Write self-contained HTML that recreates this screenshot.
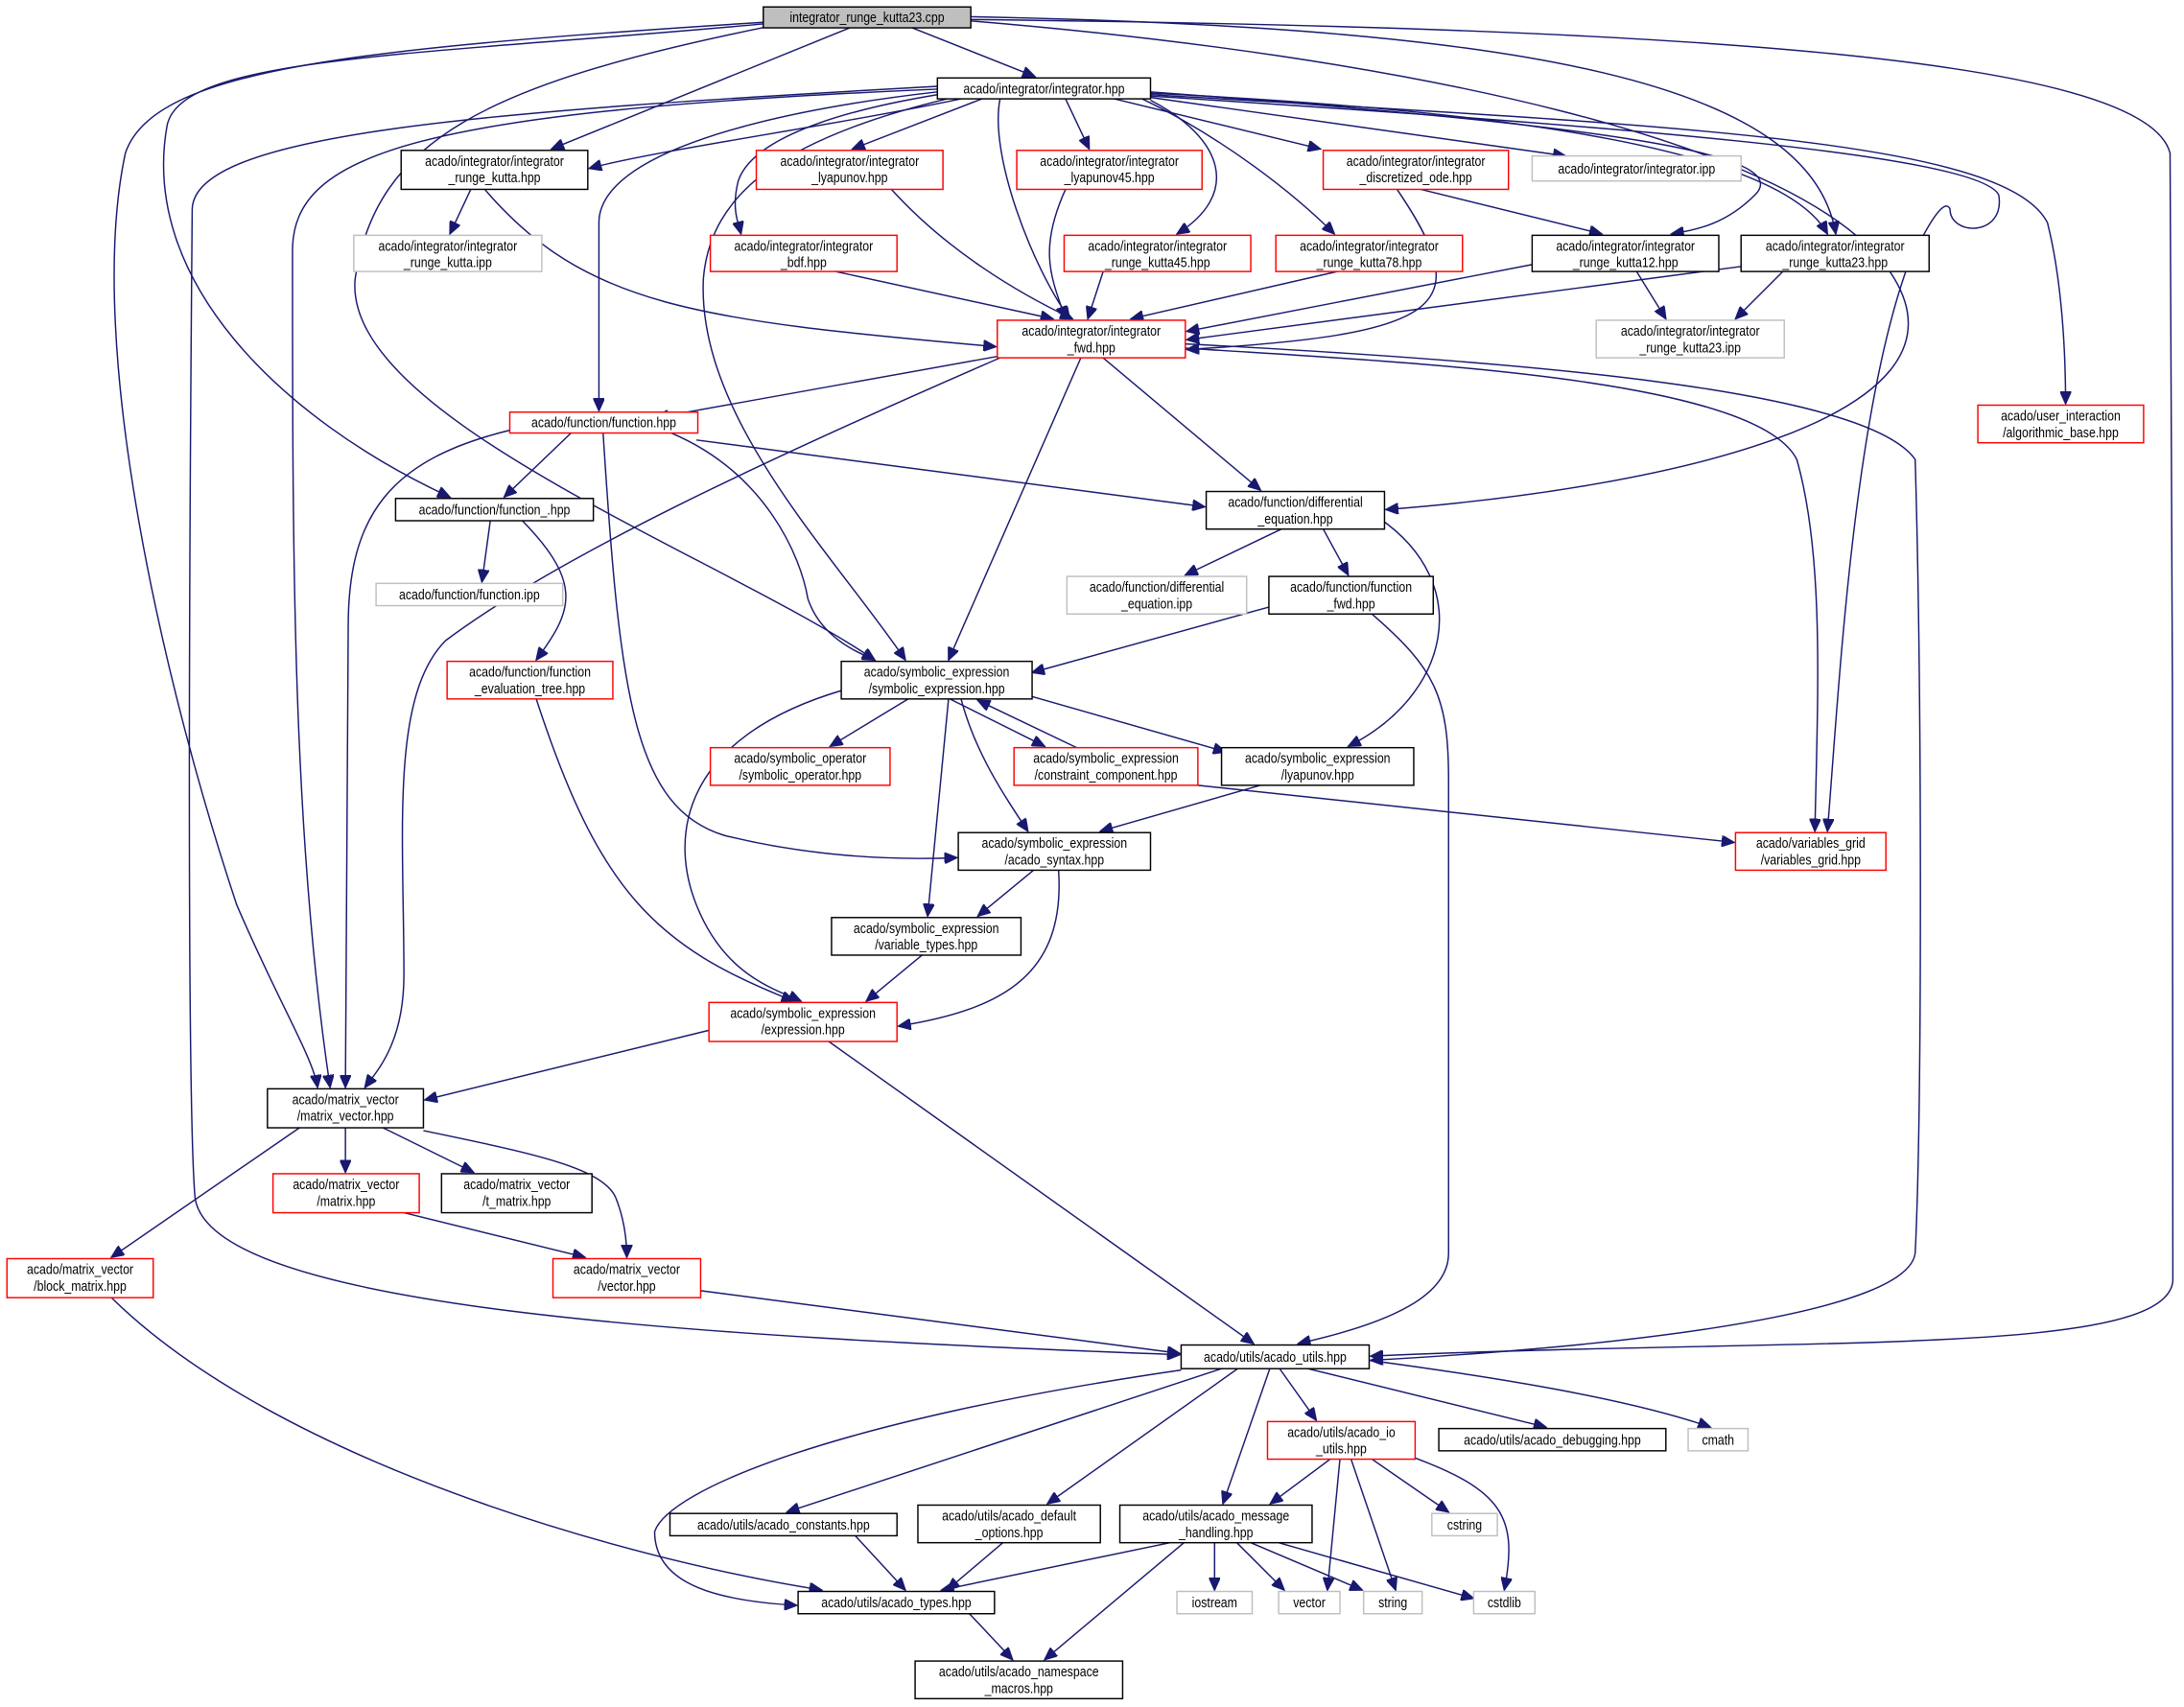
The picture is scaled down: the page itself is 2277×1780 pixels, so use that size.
<!DOCTYPE html>
<html><head><meta charset="utf-8"><style>
html,body{margin:0;padding:0;background:#fff;}
svg{display:block;}
text{font-family:"Liberation Sans",sans-serif;font-size:10px;fill:#000;text-anchor:middle;}
.e{fill:none;stroke:#191970;stroke-width:1;}
.b{fill:#fff;stroke:#000;stroke-width:1;}
.r{fill:#fff;stroke:#ff0000;stroke-width:1;}
.g{fill:#fff;stroke:#bfbfbf;stroke-width:1;}
</style></head><body>
<svg width="2277" height="1780" viewBox="0 0 1568 1226" preserveAspectRatio="none" xmlns="http://www.w3.org/2000/svg">
<defs><marker id="a" markerUnits="userSpaceOnUse" markerWidth="10" markerHeight="8" refX="9" refY="4" orient="auto"><path d="M0,0 L9,4 L0,8 z" fill="#191970" stroke="#191970"/></marker></defs>
<g class="e" marker-end="url(#a)">
<path d="M655,20 L743,55"/>
<path d="M610,20 L396,107"/>
<path d="M550,17 C300,40 130,40 120,90 C100,200 200,300 323,357"/>
<path d="M552,19 C350,60 270,100 255,200 C245,300 520,400 628,474"/>
<path d="M548,16 C250,35 110,50 90,110 C60,250 120,500 170,650 C200,720 225,760 228,781"/>
<path d="M697,14 C1200,20 1540,40 1558,110 C1560,300 1560,800 1560,920 C1555,975 1300,960 984,974"/>
<path d="M697,12 C1100,20 1300,60 1318,168"/>
<path d="M697,15 C1000,40 1300,100 1360,200 C1420,300 1200,350 995,366"/>
<path d="M690,71 C600,90 470,108 423,121"/>
<path d="M705,71 L612,107"/>
<path d="M765,71 L782,107"/>
<path d="M800,71 L948,107"/>
<path d="M826,70 L1124,112"/>
<path d="M673,68 C600,80 540,100 530,130 C525,150 530,160 532,168"/>
<path d="M826,72 C880,100 890,140 845,168"/>
<path d="M820,71 C880,100 930,140 958,168"/>
<path d="M826,66 C1150,90 1290,110 1260,140 C1240,160 1220,165 1200,168"/>
<path d="M826,67 C1100,80 1280,110 1312,168"/>
<path d="M718,71 C710,110 740,190 768,229"/>
<path d="M673,66 C550,80 430,110 430,160 C430,220 430,270 430,295"/>
<path d="M680,71 C560,100 510,140 505,200 C500,300 600,400 650,474"/>
<path d="M673,64 C300,80 210,110 210,180 C210,400 210,600 237,781"/>
<path d="M673,62 C350,80 140,95 138,150 C135,500 135,800 140,860 C150,940 500,960 847,973"/>
<path d="M826,68 C1200,90 1440,100 1470,160 C1480,200 1483,250 1483,290"/>
<path d="M826,69 C1150,90 1420,110 1435,140 C1440,170 1400,170 1400,150 C1395,140 1380,170 1370,190 C1330,300 1320,500 1312,597"/>
<path d="M338,136 L323,168"/>
<path d="M348,136 C420,220 500,230 715,249"/>
<path d="M640,136 C680,180 730,210 770,229"/>
<path d="M765,136 C745,180 755,200 765,229"/>
<path d="M600,195 L756,229"/>
<path d="M792,195 L781,229"/>
<path d="M960,195 L812,229"/>
<path d="M1020,136 L1150,168"/>
<path d="M1003,136 C1060,220 1040,240 852,251"/>
<path d="M1100,190 L852,238"/>
<path d="M1175,195 L1196,229"/>
<path d="M1253,191 L852,244"/>
<path d="M1280,195 L1246,229"/>
<path d="M716,256 L471,300"/>
<path d="M718,257 C550,330 400,400 320,460 C280,500 290,600 290,700 C290,750 270,770 262,781"/>
<path d="M776,257 L681,474"/>
<path d="M792,257 L905,352"/>
<path d="M851,250 C1000,260 1260,270 1290,330 C1310,400 1305,500 1303,597"/>
<path d="M851,247 C1100,260 1340,280 1375,330 C1380,500 1380,800 1375,900 C1370,940 1200,965 984,977"/>
<path d="M410,311 L362,357"/>
<path d="M500,316 L865,364"/>
<path d="M366,309 C280,330 250,370 250,450 C250,600 248,700 248,781"/>
<path d="M482,311 C550,340 575,400 580,430 C590,460 620,470 628,474"/>
<path d="M433,311 C445,500 455,580 520,600 C580,615 640,618 687,616"/>
<path d="M352,374 L346,418"/>
<path d="M375,374 C420,420 410,440 385,474"/>
<path d="M920,380 L851,413"/>
<path d="M950,380 L968,413"/>
<path d="M990,372 C1060,420 1040,500 968,536"/>
<path d="M911,436 L741,483"/>
<path d="M985,441 C1030,480 1040,500 1040,560 C1040,700 1040,850 1040,900 C1040,930 1000,950 932,965"/>
<path d="M385,502 C430,640 470,680 570,719"/>
<path d="M652,502 L596,536"/>
<path d="M682,502 L750,536"/>
<path d="M773,537 L702,503"/>
<path d="M740,500 L880,540"/>
<path d="M690,502 C700,540 720,570 738,597"/>
<path d="M681,502 L666,658"/>
<path d="M604,496 C490,530 480,600 500,650 C520,700 555,710 575,719"/>
<path d="M860,564 L1245,605"/>
<path d="M905,564 L790,597"/>
<path d="M742,625 L702,658"/>
<path d="M760,625 C765,700 720,725 645,737"/>
<path d="M662,686 L622,719"/>
<path d="M509,740 L305,790"/>
<path d="M595,748 L900,965"/>
<path d="M248,810 L248,842"/>
<path d="M275,810 L340,842"/>
<path d="M215,810 L80,903"/>
<path d="M304,812 C380,828 432,838 442,860 C448,875 450,890 450,903"/>
<path d="M290,871 L420,903"/>
<path d="M503,927 L847,972"/>
<path d="M80,932 C200,1050 450,1120 590,1142"/>
<path d="M848,984 C600,1020 480,1070 470,1100 C470,1140 520,1150 572,1153"/>
<path d="M880,982 L565,1086"/>
<path d="M890,982 L752,1080"/>
<path d="M912,982 L878,1080"/>
<path d="M918,982 L945,1020"/>
<path d="M935,982 L1110,1025"/>
<path d="M983,977 C1080,990 1170,1005 1228,1025"/>
<path d="M955,1048 L912,1080"/>
<path d="M962,1048 L953,1142"/>
<path d="M970,1048 L1002,1142"/>
<path d="M985,1048 L1040,1086"/>
<path d="M1010,1045 C1080,1070 1090,1090 1080,1142"/>
<path d="M840,1108 L676,1142"/>
<path d="M850,1108 L750,1192"/>
<path d="M872,1108 L872,1142"/>
<path d="M888,1108 L922,1142"/>
<path d="M898,1108 L978,1142"/>
<path d="M918,1108 L1058,1148"/>
<path d="M614,1103 L650,1142"/>
<path d="M720,1108 L680,1142"/>
<path d="M696,1159 L727,1192"/>
</g>
<rect x="548" y="5" width="149" height="15" fill="#bfbfbf" stroke="#000"/>
<g transform="translate(622.5,16) scale(0.85,1)"><text>integrator_runge_kutta23.cpp</text></g>
<rect class="b" x="673" y="56" width="153" height="15"/><g transform="translate(749.5,67) scale(0.85,1)"><text>acado/integrator/integrator.hpp</text></g>
<rect class="b" x="288" y="108" width="134" height="28"/><g transform="translate(355,119) scale(0.85,1)"><text>acado/integrator/integrator</text><text y="12">_runge_kutta.hpp</text></g>
<rect class="g" x="254" y="169" width="135" height="26"/><g transform="translate(321.5,180) scale(0.85,1)"><text>acado/integrator/integrator</text><text y="12">_runge_kutta.ipp</text></g>
<rect class="r" x="543" y="108" width="134" height="28"/><g transform="translate(610,119) scale(0.85,1)"><text>acado/integrator/integrator</text><text y="12">_lyapunov.hpp</text></g>
<rect class="r" x="730" y="108" width="133" height="28"/><g transform="translate(796.5,119) scale(0.85,1)"><text>acado/integrator/integrator</text><text y="12">_lyapunov45.hpp</text></g>
<rect class="r" x="510" y="169" width="134" height="26"/><g transform="translate(577,180) scale(0.85,1)"><text>acado/integrator/integrator</text><text y="12">_bdf.hpp</text></g>
<rect class="r" x="950" y="108" width="133" height="28"/><g transform="translate(1016.5,119) scale(0.85,1)"><text>acado/integrator/integrator</text><text y="12">_discretized_ode.hpp</text></g>
<rect class="g" x="1100" y="112" width="150" height="18"/><g transform="translate(1175,124.5) scale(0.85,1)"><text>acado/integrator/integrator.ipp</text></g>
<rect class="r" x="764" y="169" width="134" height="26"/><g transform="translate(831,180) scale(0.85,1)"><text>acado/integrator/integrator</text><text y="12">_runge_kutta45.hpp</text></g>
<rect class="r" x="916" y="169" width="134" height="26"/><g transform="translate(983,180) scale(0.85,1)"><text>acado/integrator/integrator</text><text y="12">_runge_kutta78.hpp</text></g>
<rect class="b" x="1100" y="169" width="134" height="26"/><g transform="translate(1167,180) scale(0.85,1)"><text>acado/integrator/integrator</text><text y="12">_runge_kutta12.hpp</text></g>
<rect class="b" x="1250" y="169" width="135" height="26"/><g transform="translate(1317.5,180) scale(0.85,1)"><text>acado/integrator/integrator</text><text y="12">_runge_kutta23.hpp</text></g>
<rect class="g" x="1146" y="230" width="135" height="27"/><g transform="translate(1213.5,241) scale(0.85,1)"><text>acado/integrator/integrator</text><text y="12">_runge_kutta23.ipp</text></g>
<rect class="r" x="716" y="230" width="135" height="27"/><g transform="translate(783.5,241) scale(0.85,1)"><text>acado/integrator/integrator</text><text y="12">_fwd.hpp</text></g>
<rect class="r" x="1420" y="291" width="119" height="27"/><g transform="translate(1479.5,302) scale(0.85,1)"><text>acado/user_interaction</text><text y="12">/algorithmic_base.hpp</text></g>
<rect class="r" x="366" y="296" width="135" height="15"/><g transform="translate(433.5,307) scale(0.85,1)"><text>acado/function/function.hpp</text></g>
<rect class="b" x="284" y="358" width="142" height="16"/><g transform="translate(355,369.5) scale(0.85,1)"><text>acado/function/function_.hpp</text></g>
<rect class="g" x="270" y="419" width="134" height="16"/><g transform="translate(337,430.5) scale(0.85,1)"><text>acado/function/function.ipp</text></g>
<rect class="b" x="866" y="353" width="128" height="27"/><g transform="translate(930,364) scale(0.85,1)"><text>acado/function/differential</text><text y="12">_equation.hpp</text></g>
<rect class="g" x="766" y="414" width="129" height="27"/><g transform="translate(830.5,425) scale(0.85,1)"><text>acado/function/differential</text><text y="12">_equation.ipp</text></g>
<rect class="b" x="911" y="414" width="118" height="27"/><g transform="translate(970,425) scale(0.85,1)"><text>acado/function/function</text><text y="12">_fwd.hpp</text></g>
<rect class="r" x="321" y="475" width="119" height="27"/><g transform="translate(380.5,486) scale(0.85,1)"><text>acado/function/function</text><text y="12">_evaluation_tree.hpp</text></g>
<rect class="b" x="604" y="475" width="137" height="27"/><g transform="translate(672.5,486) scale(0.85,1)"><text>acado/symbolic_expression</text><text y="12">/symbolic_expression.hpp</text></g>
<rect class="r" x="510" y="537" width="129" height="27"/><g transform="translate(574.5,548) scale(0.85,1)"><text>acado/symbolic_operator</text><text y="12">/symbolic_operator.hpp</text></g>
<rect class="r" x="728" y="537" width="132" height="27"/><g transform="translate(794,548) scale(0.85,1)"><text>acado/symbolic_expression</text><text y="12">/constraint_component.hpp</text></g>
<rect class="b" x="877" y="537" width="138" height="27"/><g transform="translate(946,548) scale(0.85,1)"><text>acado/symbolic_expression</text><text y="12">/lyapunov.hpp</text></g>
<rect class="r" x="1246" y="598" width="108" height="27"/><g transform="translate(1300,609) scale(0.85,1)"><text>acado/variables_grid</text><text y="12">/variables_grid.hpp</text></g>
<rect class="b" x="688" y="598" width="138" height="27"/><g transform="translate(757,609) scale(0.85,1)"><text>acado/symbolic_expression</text><text y="12">/acado_syntax.hpp</text></g>
<rect class="b" x="597" y="659" width="136" height="27"/><g transform="translate(665,670) scale(0.85,1)"><text>acado/symbolic_expression</text><text y="12">/variable_types.hpp</text></g>
<rect class="r" x="509" y="720" width="135" height="28"/><g transform="translate(576.5,731) scale(0.85,1)"><text>acado/symbolic_expression</text><text y="12">/expression.hpp</text></g>
<rect class="b" x="192" y="782" width="112" height="28"/><g transform="translate(248,793) scale(0.85,1)"><text>acado/matrix_vector</text><text y="12">/matrix_vector.hpp</text></g>
<rect class="r" x="196" y="843" width="105" height="28"/><g transform="translate(248.5,854) scale(0.85,1)"><text>acado/matrix_vector</text><text y="12">/matrix.hpp</text></g>
<rect class="b" x="317" y="843" width="108" height="28"/><g transform="translate(371,854) scale(0.85,1)"><text>acado/matrix_vector</text><text y="12">/t_matrix.hpp</text></g>
<rect class="r" x="5" y="904" width="105" height="28"/><g transform="translate(57.5,915) scale(0.85,1)"><text>acado/matrix_vector</text><text y="12">/block_matrix.hpp</text></g>
<rect class="r" x="397" y="904" width="106" height="28"/><g transform="translate(450,915) scale(0.85,1)"><text>acado/matrix_vector</text><text y="12">/vector.hpp</text></g>
<rect class="b" x="848" y="966" width="135" height="17"/><g transform="translate(915.5,978) scale(0.85,1)"><text>acado/utils/acado_utils.hpp</text></g>
<rect class="r" x="910" y="1021" width="106" height="27"/><g transform="translate(963,1032) scale(0.85,1)"><text>acado/utils/acado_io</text><text y="12">_utils.hpp</text></g>
<rect class="b" x="1033" y="1026" width="163" height="16"/><g transform="translate(1114.5,1037.5) scale(0.85,1)"><text>acado/utils/acado_debugging.hpp</text></g>
<rect class="g" x="1212" y="1026" width="43" height="16"/><g transform="translate(1233.5,1037.5) scale(0.85,1)"><text>cmath</text></g>
<rect class="b" x="481" y="1087" width="163" height="16"/><g transform="translate(562.5,1098.5) scale(0.85,1)"><text>acado/utils/acado_constants.hpp</text></g>
<rect class="b" x="659" y="1081" width="131" height="27"/><g transform="translate(724.5,1092) scale(0.85,1)"><text>acado/utils/acado_default</text><text y="12">_options.hpp</text></g>
<rect class="b" x="804" y="1081" width="138" height="27"/><g transform="translate(873,1092) scale(0.85,1)"><text>acado/utils/acado_message</text><text y="12">_handling.hpp</text></g>
<rect class="g" x="1028" y="1087" width="47" height="16"/><g transform="translate(1051.5,1098.5) scale(0.85,1)"><text>cstring</text></g>
<rect class="g" x="845" y="1143" width="54" height="16"/><g transform="translate(872,1154.5) scale(0.85,1)"><text>iostream</text></g>
<rect class="g" x="918" y="1143" width="44" height="16"/><g transform="translate(940,1154.5) scale(0.85,1)"><text>vector</text></g>
<rect class="g" x="979" y="1143" width="42" height="16"/><g transform="translate(1000,1154.5) scale(0.85,1)"><text>string</text></g>
<rect class="g" x="1058" y="1143" width="44" height="16"/><g transform="translate(1080,1154.5) scale(0.85,1)"><text>cstdlib</text></g>
<rect class="b" x="573" y="1143" width="141" height="16"/><g transform="translate(643.5,1154.5) scale(0.85,1)"><text>acado/utils/acado_types.hpp</text></g>
<rect class="b" x="657" y="1193" width="149" height="27"/><g transform="translate(731.5,1204) scale(0.85,1)"><text>acado/utils/acado_namespace</text><text y="12">_macros.hpp</text></g>
</svg>
</body></html>
